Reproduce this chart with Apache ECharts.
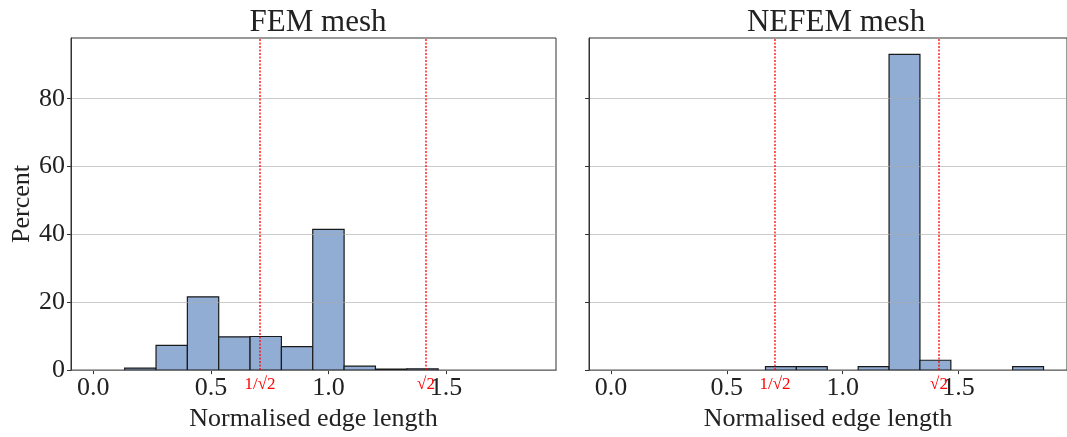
<!DOCTYPE html>
<html>
<head>
<meta charset="utf-8">
<script src="https://cdn.jsdelivr.net/npm/echarts@6/dist/echarts.min.js"></script>
<style>html,body{margin:0;padding:0;background:#fff;}#c{width:1067px;height:437px;}</style>
</head>
<body>
<div id="c"></div>
<script>
// Histogram bin edges (15 bins on [0, 2])
const binEdges = [0, 0.1333, 0.2667, 0.4, 0.5333, 0.6667, 0.8, 0.9333, 1.0667, 1.2, 1.3333, 1.4667, 1.6, 1.7333, 1.8667, 2.0];
// Percent of edges per bin
const femPercent   = [0, 0.6, 7.3, 21.6, 9.8, 9.9, 6.9, 41.5, 1.2, 0.3, 0.4, 0, 0, 0, 0];
const nefemPercent = [0, 0, 0, 0, 0, 1.0, 1.0, 0, 1.0, 93.1, 2.9, 0, 0, 1.0, 0];
const panelTitles = ['FEM mesh', 'NEFEM mesh'];
const xTicks = [0, 0.5, 1.0, 1.5];
const yTicks = [0, 20, 40, 60, 80];
const refLines = [0.7071, 1.4142];
const refLabels = ['1/√2', '√2'];

const FONT = 'Liberation Serif';
const TXT = '#222';
const RED = '#ff0000';

function histData(vals) {
  return vals.map((v, i) => [binEdges[i], binEdges[i + 1], v]);
}
function renderBar(params, api) {
  const v = api.value(2);
  if (!v) return;
  const p0 = api.coord([api.value(0), v]);
  const p1 = api.coord([api.value(1), 0]);
  return {
    type: 'rect',
    shape: { x: p0[0], y: p0[1], width: p1[0] - p0[0], height: p1[1] - p0[1] },
    style: { fill: '#92add4', stroke: '#1a1a1a', lineWidth: 1.2 }
  };
}
function renderRef(params, api) {
  const x = api.value(0);
  const k = api.value(1);
  const cs = params.coordSys;
  const px = Math.round(api.coord([x, 0])[0]);
  return {
    type: 'group',
    children: [
      { type: 'line', shape: { x1: px, y1: cs.y + cs.height, x2: px, y2: cs.y },
        style: { stroke: RED, lineWidth: 1.3, lineDash: [2, 1.5], opacity: 1 } },
      { type: 'text', style: { text: refLabels[k], x: px, y: cs.y + cs.height + 6,
        align: 'center', verticalAlign: 'top', fill: RED, font: '17px "' + FONT + '"' } }
    ]
  };
}

const grids = [
  { left: 71, top: 38, width: 485, height: 334, show: true, borderColor: '#333', borderWidth: 1 },
  { left: 589, top: 38, width: 485, height: 334, show: true, borderColor: '#333', borderWidth: 1 }
];

const xAxes = [0, 1].map(i => ({
  type: 'value', gridIndex: i, min: -0.095, max: 1.968,
  name: 'Normalised edge length', nameLocation: 'middle', nameGap: 34,
  nameTextStyle: { fontFamily: FONT, fontSize: 26, color: TXT },
  axisLine: { show: true, onZero: false, lineStyle: { color: '#333', width: 1 } },
  axisTick: { show: true, length: 4, customValues: xTicks, lineStyle: { color: '#333' } },
  axisLabel: { customValues: xTicks, fontFamily: FONT, fontSize: 26, color: TXT, margin: 5,
    formatter: v => v.toFixed(1) },
  splitLine: { show: false }
}));

const yAxes = [0, 1].map(i => ({
  type: 'value', gridIndex: i, min: 0, max: 97.9, interval: 20, z: 3,
  name: i === 0 ? 'Percent' : '', nameLocation: 'middle', nameGap: 36,
  nameTextStyle: { fontFamily: FONT, fontSize: 26, color: TXT },
  axisLine: { show: true, onZero: false, lineStyle: { color: '#333', width: 1 } },
  axisTick: { show: true, length: 4, customValues: yTicks, lineStyle: { color: '#333' } },
  axisLabel: { show: i === 0, customValues: yTicks, fontFamily: FONT, fontSize: 26, color: TXT, margin: 6 },
  splitLine: { show: true, lineStyle: { color: 'rgba(170,170,170,0.6)', width: 1 } }
}));

const series = [];
[femPercent, nefemPercent].forEach((vals, i) => {
  series.push({
    type: 'custom', xAxisIndex: i, yAxisIndex: i,
    renderItem: renderBar, data: histData(vals), z: 2,
    encode: { x: [0, 1], y: 2 }
  });
  series.push({
    type: 'custom', xAxisIndex: i, yAxisIndex: i, z: 5, silent: true, clip: false,
    renderItem: renderRef, data: refLines.map((x, k) => [x, k]),
    encode: { x: 0 }
  });
});

const chart = echarts.init(document.getElementById('c'), null, { renderer: 'canvas' });
chart.setOption({
  animation: false,
  backgroundColor: '#fff',
  title: panelTitles.map((t, i) => ({
    text: t, left: i === 0 ? 313 : 831, top: 2, textAlign: 'center',
    textStyle: { fontFamily: FONT, fontSize: 31, fontWeight: 'normal', color: TXT }
  })),
  grid: grids,
  xAxis: xAxes,
  yAxis: yAxes,
  series: series
});
</script>
</body>
</html>
